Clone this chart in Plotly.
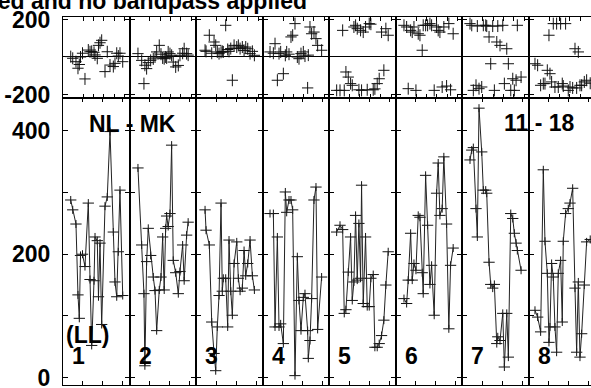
import plotly.graph_objects as go

# ---------------- data ----------------
TITLE = "Phases calibrated and no bandpass applied"
BASELINE_LABEL = "NL - MK"
SCAN_LABEL = "11 - 18"
POL_LABEL = "(LL)"
PANEL_LABELS = ["1", "2", "3", "4", "5", "6", "7", "8"]

PHASE_TICKS = [-200, 200]
PHASE_TICK_TEXT = ["-200", "200"]
AMP_TICKS = [0, 100, 200, 300, 400]
AMP_TICK_TEXT = ["0", "", "200", "", "400"]

# time within each scan (minutes), amplitude, phase (degrees)
T1 = [1.16, 1.46, 1.95, 2.25, 2.45, 2.63, 2.93, 3.3, 3.8, 4.06, 4.31, 4.66, 4.81, 5.15, 5.33, 5.56, 5.81, 6.31, 6.65, 7.06, 7.56, 7.81, 8.07, 8.31, 8.56, 8.97]
A1 = [288, 272, 249, 134, 96, 198, 200, 180, 283, 159, 52, 157, 228, 222, 131, 218, 86, 278, 293, 399, 236, 155, 131, 204, 304, 133]
P1 = [2, -7, -25, -60, -40, 0, 20, -117, 37, 28, 30, 25, 11, -7, 62, 76, 89, -78, 28, -43, -51, -34, 20, 5, 20, -25]

T2 = [1.26, 1.82, 2.16, 2.3, 2.56, 2.81, 3.17, 3.56, 3.82, 4.07, 4.46, 4.72, 4.97, 5.2, 5.42, 5.57, 5.8, 6.07, 6.32, 6.56, 6.93, 7.32, 7.57, 7.97, 8.2, 8.57, 8.8]
A2 = [340, 215, 136, 19, 188, 242, 198, 163, 141, 76, 142, 163, 228, 142, 242, 262, 245, 266, 377, 190, 170, 136, 172, 215, 157, 231, 252]
P2 = [18, -18, -142, -44, -62, -30, -18, -10, 0, 27, 62, 15, -5, -9, 0, -5, 27, 18, 9, -27, -53, -45, 9, 20, 44, 18, 10]

T3 = [1.34, 1.49, 1.98, 2.34, 2.69, 2.94, 3.18, 3.44, 3.74, 3.93, 4.08, 4.44, 4.74, 4.94, 5.2, 5.44, 5.7, 6.1, 6.34, 6.6, 6.94, 7.2, 7.45, 7.75, 8.1, 8.45, 8.75]
A3 = [272, 239, 215, 90, 39, 11, 82, 133, 283, 140, 161, 161, 82, 223, 140, 101, 185, 220, 161, 140, 145, 206, 165, 185, 223, 165, 142]
P3 = [36, 30, 116, 20, 80, 62, 27, 18, 25, 30, 27, 169, 40, 30, 45, -124, 62, 53, 62, 45, 53, 35, 53, 44, 18, 30, 9]

T4 = [1.1, 1.6, 1.85, 2.2, 2.45, 2.7, 3.1, 3.4, 3.6, 3.95, 4.25, 4.5, 4.85, 5.2, 5.45, 5.75, 6.1, 6.35, 6.75, 6.85, 7.1, 7.35, 7.7, 8.0, 8.25, 8.85]
A4 = [266, 266, 82, 228, 82, 87, 55, 301, 268, 288, 288, 272, 3, 196, 125, 76, 130, 136, 76, 31, 60, 128, 288, 309, 78, 163]
P4 = [27, 20, 71, -124, 18, 27, -89, 9, 27, 15, 107, 116, 178, 0, -9, 18, 27, 5, -165, 10, 160, 124, 133, 98, 62, 36]

T5 = [1.11, 1.61, 2.01, 2.25, 2.5, 2.85, 3.2, 3.45, 3.7, 3.95, 4.2, 4.45, 4.7, 4.85, 5.1, 5.45, 5.7, 6.0, 6.25, 6.6, 6.85, 7.2, 7.5, 7.85, 8.2, 8.5, 8.85]
A5 = [236, 247, 240, 104, 110, 171, 228, 125, 155, 263, 158, 250, 161, 312, 120, 228, 115, 115, 161, 167, 49, 49, 55, 68, 93, 150, 204]
P5 = [-178, -178, 142, -178, -80, -107, -142, -151, 160, 169, 151, -175, 142, -178, 133, 160, -175, 178, 175, -175, -170, -142, -116, 133, -71, 151, 116]

T6 = [1.22, 1.62, 1.86, 2.22, 2.46, 2.72, 3.02, 3.36, 3.62, 3.96, 4.11, 4.47, 4.77, 5.12, 5.37, 5.76, 6.12, 6.36, 6.62, 6.96, 7.21, 7.62, 7.96, 8.22, 8.61]
A6 = [128, 120, 158, 234, 158, 185, 174, 263, 260, 170, 136, 328, 247, 151, 182, 101, 299, 348, 263, 274, 358, 249, 79, 182, 210]
P6 = [169, 160, -169, 142, 133, 160, -178, 124, 116, 36, 169, 169, 169, 178, 169, -178, 160, 142, 133, -160, 160, -155, 178, -175, 124]

T7 = [1.14, 1.4, 1.64, 2.04, 2.24, 2.49, 2.9, 3.14, 3.5, 3.65, 4.0, 4.25, 4.55, 4.8, 5.16, 5.31, 5.65, 6.06, 6.3, 6.66, 6.9, 7.26, 7.56, 7.8, 8.06, 8.25, 8.81]
A7 = [353, 369, 373, 274, 228, 437, 366, 304, 304, 299, 187, 151, 145, 151, 55, 66, 60, 104, 17, 104, 33, 266, 258, 234, 218, 206, 174]
P7 = [178, 169, -178, -151, 165, -169, -160, 169, 169, 165, 107, -36, 165, -178, 80, 165, 62, 169, -142, 44, -36, -178, -116, -178, -124, 169, -107]

T8 = [0.9, 1.3, 1.75, 2.15, 2.4, 2.75, 3.0, 3.15, 3.4, 3.65, 3.9, 4.15, 4.4, 4.75, 5.0, 5.15, 5.5, 5.9, 6.16, 6.56, 6.91, 7.16, 7.41, 7.66, 7.91, 8.31, 8.66, 9.2]
A8 = [109, 98, 74, 337, 221, 169, 57, 82, 185, 163, 82, 41, 169, 190, 90, 221, 266, 274, 283, 307, 145, 41, 155, 33, 71, 150, 220, 224]
P8 = [-36, -44, -151, -142, -142, -71, 116, -89, -133, 178, -160, 178, -160, 178, -142, -155, 178, -178, -160, -165, 44, -165, 27, -151, -151, -133, -124, -140]

TIMES = [T1, T2, T3, T4, T5, T6, T7, T8]
AMPS = [A1, A2, A3, A4, A5, A6, A7, A8]
PHASES = [P1, P2, P3, P4, P5, P6, P7, P8]

# ---------------- layout geometry ----------------
W, H = 591, 388
ML, MR, MT, MB = 63, 0, 17, 3
PW = W - ML - MR
PH = H - MT - MB
PANEL_PX = 66.57
MIN_PER_PANEL = 10.0
SPLIT_PX = 98
SPLIT = (H - MB - SPLIT_PX) / PH

PHASE_RANGE = [-218.7, 213.3]
AMP_RANGE = [-12.2, 453.5]

FONT = "Liberation Sans, Arial, Helvetica, sans-serif"
LINE_COL = "#111111"
BOLD = dict(family=FONT, size=23, color="black", weight="bold")


def xname(i):
    return "xaxis" if i == 1 else "xaxis%d" % i


def yname(i):
    return "yaxis" if i == 1 else "yaxis%d" % i


def xref(i):
    return "x" if i == 1 else "x%d" % i


def yref(i):
    return "y" if i == 1 else "y%d" % i


fig = go.Figure()
lay = {}

for k in range(8):
    x0 = k * PANEL_PX / PW
    x1 = min((k + 1) * PANEL_PX / PW, 1.0)
    xr = [0, MIN_PER_PANEL * (x1 - x0) * PW / PANEL_PX]
    ip, ia = 2 * k + 1, 2 * k + 2
    ymirror = "ticks" if k < 7 else False

    common_x = dict(domain=[x0, x1], range=xr, showline=True, linecolor="black",
                    linewidth=1, mirror="ticks", ticks="inside", ticklen=4,
                    tickcolor="black", showticklabels=False, showgrid=False,
                    zeroline=False, fixedrange=True, automargin=False)
    lay[xname(ip)] = dict(common_x, anchor=yref(ip),
                          tickvals=[3.05, 4.6, 6.15, 7.7, 9.3])
    lay[xname(ia)] = dict(common_x, anchor=yref(ia), tickvals=[3.0, 6.0, 9.0])

    lay[yname(ip)] = dict(domain=[SPLIT, 1.0], range=PHASE_RANGE, anchor=xref(ip),
                          showline=True, linecolor="black", linewidth=1,
                          mirror=ymirror, ticks="inside", ticklen=5,
                          tickcolor="black", tickvals=PHASE_TICKS,
                          ticktext=PHASE_TICK_TEXT, showticklabels=(k == 0),
                          tickfont=BOLD, ticklabelstandoff=7, automargin=False,
                          ticklabeloverflow="allow",
                          zeroline=True, zerolinecolor="black", zerolinewidth=1,
                          showgrid=False, fixedrange=True)
    lay[yname(ia)] = dict(domain=[0.0, SPLIT], range=AMP_RANGE, anchor=xref(ia),
                          showline=True, linecolor="black", linewidth=1,
                          mirror=ymirror, ticks="inside", ticklen=5,
                          tickcolor="black", tickvals=AMP_TICKS,
                          ticktext=AMP_TICK_TEXT, showticklabels=(k == 0),
                          tickfont=BOLD, ticklabelstandoff=7, automargin=False,
                          ticklabeloverflow="allow",
                          zeroline=False, showgrid=False, fixedrange=True)

    err_x = dict(type="constant", value=0.85, width=0, thickness=1, color=LINE_COL)
    fig.add_trace(go.Scatter(
        x=TIMES[k], y=PHASES[k], mode="markers",
        marker=dict(size=1, color="rgba(0,0,0,0)"),
        error_x=err_x,
        error_y=dict(type="constant", value=32, width=0, thickness=1, color=LINE_COL),
        xaxis=xref(ip), yaxis=yref(ip), showlegend=False, hoverinfo="skip"))
    fig.add_trace(go.Scatter(
        x=TIMES[k], y=AMPS[k], mode="lines",
        line=dict(color="#222222", width=1),
        error_x=err_x,
        error_y=dict(type="constant", value=6.5, width=0, thickness=1, color=LINE_COL),
        xaxis=xref(ia), yaxis=yref(ia), showlegend=False, hoverinfo="skip"))


def px_x(px):
    return (px - ML) / PW


def px_y(py):
    return (H - MB - py) / PH


annots = []


def add_text(text, px, py, xanchor):
    annots.append(dict(text=text, x=px_x(px), y=px_y(py), xref="paper", yref="paper",
                       xanchor=xanchor, yanchor="middle", showarrow=False,
                       font=BOLD))


add_text(TITLE, 308.5, 1.0, "right")
add_text(BASELINE_LABEL, 86.5, 124.3, "left")
add_text(SCAN_LABEL, 577, 123.0, "right")
add_text(POL_LABEL, 64.0, 335.0, "left")
for k, lab in enumerate(PANEL_LABELS):
    add_text(lab, ML + k * PANEL_PX + 7.0, 356.0, "left")

fig.update_layout(
    width=W, height=H, autosize=False,
    margin=dict(l=ML, r=MR, t=MT, b=MB, pad=0, autoexpand=False),
    paper_bgcolor="white", plot_bgcolor="white",
    font=dict(family=FONT, size=23, color="black"),
    annotations=annots, showlegend=False,
    **lay,
)

fig.write_html("out.html",
               config={"displayModeBar": False, "staticPlot": True},
               post_script="document.body.style.margin='0px';"
                           "document.body.style.padding='0px';"
                           "document.body.style.overflow='hidden';")
